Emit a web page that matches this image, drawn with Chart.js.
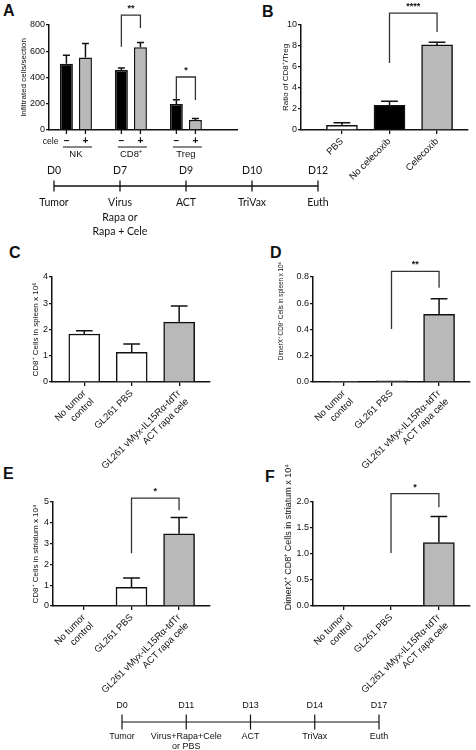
<!DOCTYPE html>
<html><head><meta charset="utf-8">
<script src="https://cdn.jsdelivr.net/npm/chart.js@4/dist/chart.umd.min.js"></script>
<style>
body{margin:0;background:#fff;width:476px;height:750px;position:relative;overflow:hidden;font-family:'Liberation Sans',Arial,sans-serif}
canvas{position:absolute}
.lt{position:absolute;font:bold 16px 'Liberation Sans',Arial,sans-serif;color:#111;line-height:16px}
</style></head><body>
<div class="lt" style="left:3px;top:3px">A</div>
<div class="lt" style="left:262px;top:4px">B</div>
<div class="lt" style="left:9px;top:245px">C</div>
<div class="lt" style="left:270px;top:245px">D</div>
<div class="lt" style="left:3px;top:466px">E</div>
<div class="lt" style="left:265px;top:469px">F</div>
<canvas id="cA" width="240" height="165" style="left:0;top:0"></canvas>
<canvas id="cB" width="236" height="185" style="left:240px;top:0"></canvas>
<canvas id="cC" width="240" height="230" style="left:0;top:255px"></canvas>
<canvas id="cD" width="236" height="230" style="left:240px;top:255px"></canvas>
<canvas id="cE" width="240" height="250" style="left:0;top:455px"></canvas>
<canvas id="cF" width="236" height="250" style="left:240px;top:455px"></canvas>
<canvas id="tTop" width="476" height="90" style="left:0;top:160px"></canvas>
<canvas id="tBot" width="476" height="60" style="left:0;top:690px"></canvas>
<script>
// ---------- data ----------
const groupsA = ['NK', 'CD8⁺', 'Treg'];
const celeA = ['–', '+'];
const meanA_noCele = [505, 457, 198];
const semA_noCele = [65, 16, 33];
const meanA_cele = [552, 630, 76];
const semA_cele = [108, 36, 12];

const catsB = ['PBS', 'No celecoxib', 'Celecoxib'];
const meanB = [0.45, 2.35, 8.1];
const semB = [0.25, 0.4, 0.25];

const catsCF = [['No tumor', 'control'], 'GL261 PBS', ['GL261 vMyx-IL15Rα-tdTr', 'ACT rapa cele']];
const meanC = [1.83, 1.13, 2.28];
const semC = [0.12, 0.32, 0.62];
const meanD = [0.005, 0.008, 0.515];
const semD = [0, 0, 0.12];
const meanE = [0, 0.9, 3.47];
const semE = [0, 0.45, 0.78];
const meanF = [0, 0, 1.22];
const semF = [0, 0, 0.5];

// significance brackets: [dataset,index] pairs, leg ends and bar top in data units
const sigA = [{a: [0, 1], b: [1, 1], ya: 635, yb: 777, top: 876, label: '**'},
              {a: [0, 2], b: [1, 2], ya: 229, yb: 229, top: 404, label: '*'}];
const sigB = [{a: [0, 1], b: [0, 2], ya: 6.38, yb: 9.33, top: 11.14, label: '****'}];
const sigD = [{a: [0, 1], b: [0, 2], ya: 0.404, yb: 0.718, top: 0.843, label: '**'}];
const sigE = [{a: [0, 1], b: [0, 2], ya: 2.54, yb: 4.6, top: 5.19, label: '*'}];
const sigF = [{a: [0, 1], b: [0, 2], ya: 1.02, yb: 1.9, top: 2.16, label: '*'}];

const daysTop = [0, 7, 9, 10, 12];
const eventsTop = [['Tumor'], ['Virus', 'Rapa or', 'Rapa + Cele'], ['ACT'], ['TriVax'], ['Euth']];
const daysBot = [0, 11, 13, 14, 17];
const eventsBot = [['Tumor'], ['Virus+Rapa+Cele', 'or PBS'], ['ACT'], ['TriVax'], ['Euth']];

// ---------- styles ----------
const INK = '#111';
const GRAY = '#b9b9b9';
const FONT = "'Liberation Sans', Arial, sans-serif";
Chart.defaults.font.family = FONT;
Chart.defaults.color = INK;
Chart.defaults.animation = false;

const sigStore = {};
const titleStore = {};

const errPlugin = {
  id: 'errbars',
  afterDatasetsDraw(chart) {
    const ctx = chart.ctx, ys = chart.scales.y;
    chart.data.datasets.forEach((ds, di) => {
      if (!ds.sem) return;
      const meta = chart.getDatasetMeta(di);
      meta.data.forEach((bar, i) => {
        const s = ds.sem[i];
        if (!s) return;
        const top = ys.getPixelForValue(ds.data[i].y + s);
        const half = bar.width * 0.27;
        ctx.save();
        ctx.strokeStyle = INK; ctx.lineWidth = 1.5;
        ctx.beginPath();
        ctx.moveTo(bar.x, bar.y); ctx.lineTo(bar.x, top);
        ctx.moveTo(bar.x - half, top); ctx.lineTo(bar.x + half, top);
        ctx.stroke();
        ctx.restore();
      });
    });
    const sig = sigStore[chart.canvas.id] || [];
    sig.forEach(s => {
      const pa = chart.getDatasetMeta(s.a[0]).data[s.a[1]];
      const pb = chart.getDatasetMeta(s.b[0]).data[s.b[1]];
      const yt = ys.getPixelForValue(s.top);
      ctx.save();
      ctx.strokeStyle = '#333'; ctx.lineWidth = 1.3;
      ctx.beginPath();
      ctx.moveTo(pa.x, ys.getPixelForValue(s.ya));
      ctx.lineTo(pa.x, yt); ctx.lineTo(pb.x, yt);
      ctx.lineTo(pb.x, ys.getPixelForValue(s.yb));
      ctx.stroke();
      ctx.fillStyle = INK;
      ctx.font = 'bold 9px ' + FONT;
      ctx.textAlign = 'center'; ctx.textBaseline = 'alphabetic';
      ctx.fillText(s.label, (pa.x + pb.x) / 2, yt - 4);
      ctx.restore();
    });
    // free-placed y-axis title (panels whose title sits off-centre)
    const t = titleStore[chart.canvas.id];
    if (t) {
      ctx.save();
      ctx.translate(t.x, t.y); ctx.rotate(-Math.PI / 2);
      ctx.fillStyle = INK; ctx.font = t.size + 'px ' + FONT;
      ctx.textAlign = 'center'; ctx.textBaseline = 'middle';
      ctx.fillText(t.text, 0, 0);
      ctx.restore();
    }
  }
};

function axisY(max, step, title, titleSize, titlePad, width, fmt) {
  return {
    min: 0, max: max,
    afterFit: s => { s.width = width; },
    ticks: { stepSize: step, font: {size: 9}, color: INK, padding: 1, callback: fmt || (v => v) },
    grid: { display: true, drawOnChartArea: false, drawTicks: true, tickLength: 3, color: INK, lineWidth: 1.3 },
    border: { display: true, color: INK, width: 1.5 },
    title: { display: !!title, text: title, font: {size: titleSize}, color: INK, padding: {top: titlePad, bottom: 0} }
  };
}

function barPanel(id, cats, means, sems, fills, o) {
  sigStore[id] = o.sig || [];
  if (o.freeTitle) titleStore[id] = o.freeTitle;
  return new Chart(document.getElementById(id), {
    type: 'bar',
    data: { datasets: [{
      data: means.map((v, i) => ({x: i, y: v})),
      sem: sems,
      backgroundColor: fills, borderColor: INK, borderWidth: 1.5,
      barThickness: 31
    }] },
    options: {
      responsive: false, animation: false, events: [],
      layout: { padding: o.pad },
      plugins: { legend: {display: false}, tooltip: {enabled: false} },
      scales: {
        x: {
          type: 'linear', min: o.xmin, max: o.xmax, offset: false,
          afterBuildTicks: s => { s.ticks = cats.map((_, i) => ({value: i})); },
          afterFit: s => { s.height = o.xh; s.paddingLeft = 0; s.paddingRight = 0; },
          ticks: { autoSkip: false, minRotation: 45, maxRotation: 45, font: {size: 9.5}, color: INK, padding: 2,
                   callback: v => cats[v] },
          grid: { display: true, offset: false, drawOnChartArea: false, drawTicks: true, tickLength: 4, color: INK, lineWidth: 1.3 },
          border: { display: true, color: INK, width: 1.5 }
        },
        y: axisY(o.ymax, o.ystep, o.title, o.ts || 8, o.tp, o.yw, o.fmt)
      }
    },
    plugins: [errPlugin]
  });
}

// ---------- Panel A ----------
const aLabels = {
  id: 'aLabels',
  afterDraw(chart) {
    const ctx = chart.ctx, xb = chart.chartArea.bottom;
    const m0 = chart.getDatasetMeta(0).data, m1 = chart.getDatasetMeta(1).data;
    ctx.save();
    ctx.strokeStyle = INK; ctx.lineWidth = 1.3; ctx.fillStyle = INK;
    [m0, m1].forEach(m => m.forEach(b => { ctx.beginPath(); ctx.moveTo(b.x, xb); ctx.lineTo(b.x, xb + 4); ctx.stroke(); }));
    ctx.textAlign = 'right'; ctx.textBaseline = 'middle';
    ctx.font = '8.5px ' + FONT;
    ctx.fillText('cele', m0[0].x - 8, xb + 12);
    ctx.textAlign = 'center';
    groupsA.forEach((g, i) => {
      ctx.font = 'bold 10px ' + FONT;
      ctx.fillText(celeA[0], m0[i].x, xb + 11);
      ctx.fillText(celeA[1], m1[i].x, xb + 11);
      const l = m0[i].x - m0[i].width / 2 + 3, r = m1[i].x + m1[i].width / 2;
      ctx.lineWidth = 1; ctx.beginPath(); ctx.moveTo(l, xb + 17); ctx.lineTo(r, xb + 17); ctx.stroke();
      ctx.font = '9.5px ' + FONT;
      ctx.fillText(g, (m0[i].x + m1[i].x) / 2, xb + 24);
    });
    ctx.restore();
  }
};
sigStore.cA = sigA;
new Chart(document.getElementById('cA'), {
  type: 'bar',
  data: { datasets: [
    { data: meanA_noCele.map((v, i) => ({x: i, y: v})), sem: semA_noCele, backgroundColor: '#000', borderColor: INK, borderWidth: 1.5, categoryPercentage: 0.745, barPercentage: 0.68 },
    { data: meanA_cele.map((v, i) => ({x: i, y: v})), sem: semA_cele, backgroundColor: GRAY, borderColor: INK, borderWidth: 1.5, categoryPercentage: 0.745, barPercentage: 0.68 }
  ] },
  options: {
    responsive: false, animation: false, events: [],
    layout: { padding: {top: 25, right: 3, left: 0, bottom: 0} },
    plugins: { legend: {display: false}, tooltip: {enabled: false} },
    scales: {
      x: { type: 'linear', min: -0.49, max: 2.93, offset: false,
           afterFit: s => { s.height = 35; s.paddingLeft = 0; s.paddingRight = 0; },
           ticks: { display: false },
           grid: { display: false, offset: false },
           border: { display: true, color: INK, width: 1.5 } },
      y: axisY(800, 200, 'Infiltrated cells/section', 8, 19, 49)
    }
  },
  plugins: [errPlugin, aLabels]
});

// ---------- Panels B-F ----------
barPanel('cB', catsB, meanB, semB, ['#fff', '#000', GRAY],
  {sig: sigB, pad: {top: 25, right: 8, left: 0, bottom: 0}, xmin: -0.86, xmax: 2.65, xh: 55,
   ymax: 10, ystep: 2, title: 'Ratio of CD8⁺/Treg', tp: 41, yw: 61});
barPanel('cC', catsCF, meanC, semC, ['#fff', '#fff', GRAY],
  {pad: {top: 22, right: 30, left: 0, bottom: 0}, xmin: -0.68, xmax: 2.65, xh: 103,
   ymax: 4, ystep: 1, title: 'CD8⁺ Cells in spleen x 10⁶', tp: 31, yw: 52});
barPanel('cD', catsCF, meanD, semD, ['#ddd', '#ddd', GRAY],
  {sig: sigD, pad: {top: 22, right: 6, left: 0, bottom: 0}, xmin: -0.65, xmax: 2.65, xh: 103,
   ymax: 0.8, ystep: 0.2, title: '', yw: 73, fmt: v => v.toFixed(1),
   freeTitle: {text: 'DimerX⁺ CD8⁺ Cells in spleen x 10⁶', size: 6.3, x: 41, y: 56}});
barPanel('cE', catsCF, meanE, semE, ['#fff', '#fff', GRAY],
  {sig: sigE, pad: {top: 47, right: 30, left: 0, bottom: 0}, xmin: -0.65, xmax: 2.65, xh: 99,
   ymax: 5, ystep: 1, title: 'CD8⁺ Cells in striatum x 10⁴', tp: 31, yw: 53});
barPanel('cF', catsCF, meanF, semF, ['#fff', '#fff', GRAY],
  {sig: sigF, pad: {top: 47, right: 6, left: 0, bottom: 0}, xmin: -0.63, xmax: 2.65, xh: 99,
   ymax: 2, ystep: 0.5, title: '', yw: 73, fmt: v => v.toFixed(1),
   freeTitle: {text: 'DimerX⁺ CD8⁺ Cells in striatum x 10⁴', size: 9, x: 49, y: 82}});

// ---------- Timelines ----------
const tlPlugin = {
  id: 'tl',
  afterDraw(chart) {
    const o = chart.options.plugins.tl;
    const ctx = chart.ctx, pts = chart.getDatasetMeta(0).data;
    const ds = chart.data.datasets[0];
    ctx.save();
    ctx.fillStyle = INK; ctx.textAlign = 'center'; ctx.textBaseline = 'middle';
    ctx.font = o.font;
    pts.forEach((p, i) => {
      ctx.fillText(chart.data.labels[i], p.x, p.y + o.dayDy);
      ds.events[i].forEach((t, k) => ctx.fillText(t, p.x, p.y + o.evDy + k * o.lh));
    });
    ctx.restore();
  }
};
function timeline(id, days, events, o) {
  return new Chart(document.getElementById(id), {
    type: 'line',
    data: { labels: days.map(d => 'D' + d),
      datasets: [{ data: days.map(() => 0), events: events, borderColor: INK, borderWidth: o.lw,
        pointStyle: 'line', pointRotation: 90, pointRadius: o.tick, pointHoverRadius: o.tick,
        pointBorderColor: INK, pointBorderWidth: o.lw, clip: false }] },
    options: {
      responsive: false, animation: false, events: [],
      layout: { padding: o.pad },
      plugins: { legend: {display: false}, tooltip: {enabled: false},
        tl: { font: o.font, dayDy: o.dayDy, evDy: o.evDy, lh: o.lh } },
      scales: { x: { type: 'category', display: false, offset: false },
                y: { display: false, min: -1, max: 1 } }
    },
    plugins: [tlPlugin]
  });
}
timeline('tTop', daysTop, eventsTop,
  {lw: 1.3, tick: 5.5, pad: {left: 54, right: 158, top: 16, bottom: 54},
   font: "10.5px Lato, 'Open Sans', sans-serif", dayDy: -15, evDy: 17, lh: 14.5});
timeline('tBot', daysBot, eventsBot,
  {lw: 1.2, tick: 7.5, pad: {left: 122, right: 97, top: 17, bottom: 13},
   font: '9px ' + FONT, dayDy: -16, evDy: 15, lh: 9.5});
</script>
</body></html>
